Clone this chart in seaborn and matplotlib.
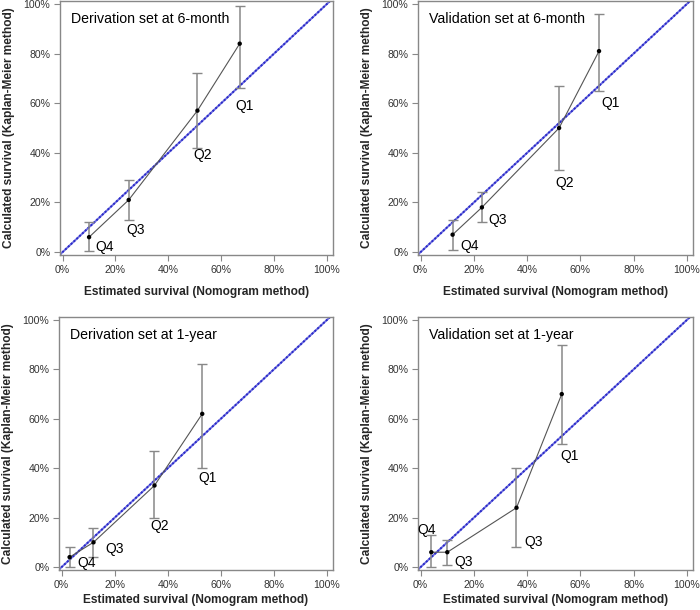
import matplotlib
matplotlib.use("Agg")
import matplotlib.pyplot as plt
import seaborn as sns
import pandas as pd
from matplotlib.ticker import FuncFormatter

sns.set_style("ticks")
plt.rcParams['font.family'] = ['Liberation Sans', 'DejaVu Sans']

titles = ["Derivation set at 6-month", "Validation set at 6-month",
          "Derivation set at 1-year", "Validation set at 1-year"]
groups = ["Q4", "Q3", "Q2", "Q1"]
groups_v1y = ["Q4", "Q3", "Q3", "Q1"]

# estimated (nomogram) survival, %
est_d6 = [10, 25, 51, 67]
est_v6 = [12, 23, 52, 67]
est_d1 = [3, 12, 35, 53]
est_v1 = [4, 10, 36, 53]
# calculated (Kaplan-Meier) survival, %
km_d6 = [6, 21, 57, 84]
km_v6 = [7, 18, 50, 81]
km_d1 = [4, 10, 33, 62]
km_v1 = [6, 6, 24, 70]
# lower / upper bounds, %
lo_d6 = [0.5, 13, 42, 66]
hi_d6 = [12, 29, 72, 99]
lo_v6 = [1, 12, 33, 65]
hi_v6 = [13, 24, 67, 96]
lo_d1 = [0, 4, 20, 40]
hi_d1 = [8, 16, 47, 82]
lo_v1 = [0, 1, 8, 50]
hi_v1 = [13, 11, 40, 90]

# label anchor points (data coords, %)
lab_x_d6 = [16, 27.5, 53, 69]
lab_y_d6 = [2, 9, 39, 59]
lab_x_v6 = [18.5, 29, 54, 71.5]
lab_y_v6 = [2.4, 13, 28, 60]
lab_x_d1 = [9.5, 20, 37, 55]
lab_y_d1 = [1.5, 7.5, 16.5, 36]
lab_x_v1 = [2.2, 16, 42.6, 56]
lab_y_v1 = [15, 2, 10, 45]

panels = [
    (est_d6, km_d6, lo_d6, hi_d6, groups, lab_x_d6, lab_y_d6),
    (est_v6, km_v6, lo_v6, hi_v6, groups, lab_x_v6, lab_y_v6),
    (est_d1, km_d1, lo_d1, hi_d1, groups, lab_x_d1, lab_y_d1),
    (est_v1, km_v1, lo_v1, hi_v1, groups_v1y, lab_x_v1, lab_y_v1),
]

fig = plt.figure(figsize=(7, 6.1), dpi=100)
rects = [
    [60/700, 1-255/610, 273/700, 254/610],
    [418/700, 1-255/610, 275/700, 254/610],
    [59/700, 1-570/610, 274/700, 253/610],
    [418/700, 1-570/610, 275/700, 253/610],
]
xpads = [8, 8, 3, 3]
pct = FuncFormatter(lambda v, p: f"{v:.0f}%")
spine_col = "#888888"
for rect, title, xpad, (ex, km, lo, hi, gl, lx, ly) in zip(rects, titles, xpads, panels):
    ax = fig.add_axes(rect)
    ax.set_xlim(-1, 102.3)
    ax.set_ylim(-1.2, 101.2)
    ax.plot([-1.2, 102.5], [-1.2, 102.5], color="#7070e0", lw=1.4, zorder=2)
    ax.plot([-1.2, 102.5], [-1.2, 102.5], color="#2a2ac8", lw=1.4,
            linestyle=(0, (1, 1)), zorder=2)
    df = pd.DataFrame({"est": ex, "km": km})
    sns.lineplot(data=df, x="est", y="km", ax=ax, color="#555555", lw=0.8,
                 sort=False, estimator=None, zorder=3)
    err_lo = [k - l for k, l in zip(km, lo)]
    err_hi = [h - k for k, h in zip(km, hi)]
    ax.errorbar(ex, km, yerr=[err_lo, err_hi], fmt="none", ecolor="#888888",
                elinewidth=1.1, capsize=3.5, capthick=1.0, zorder=3)
    sns.scatterplot(data=df, x="est", y="km", ax=ax, color="black", s=10,
                    edgecolor="none", zorder=4)
    for g, x, y in zip(gl, lx, ly):
        ax.text(x, y, g, ha="center", va="center", fontsize=10, color="black")
    ax.text(3, 94, title, ha="left", va="center", fontsize=10.2, color="black")
    ax.set_xticks(range(0, 101, 20))
    ax.set_yticks(range(0, 101, 20))
    ax.xaxis.set_major_formatter(pct)
    ax.yaxis.set_major_formatter(pct)
    ax.tick_params(axis="both", labelsize=7.6, colors="#333333", length=4,
                   width=0.8, color=spine_col, pad=3)
    for s in ax.spines.values():
        s.set_color(spine_col)
        s.set_linewidth(1.0)
    ax.set_xlabel("Estimated survival (Nomogram method)", fontsize=8.6,
                  fontweight="bold", labelpad=xpad)
    ax.set_ylabel("Calculated survival (Kaplan-Meier method)", fontsize=8.6,
                  fontweight="bold", labelpad=6)

fig.savefig("out.png", dpi=100)
